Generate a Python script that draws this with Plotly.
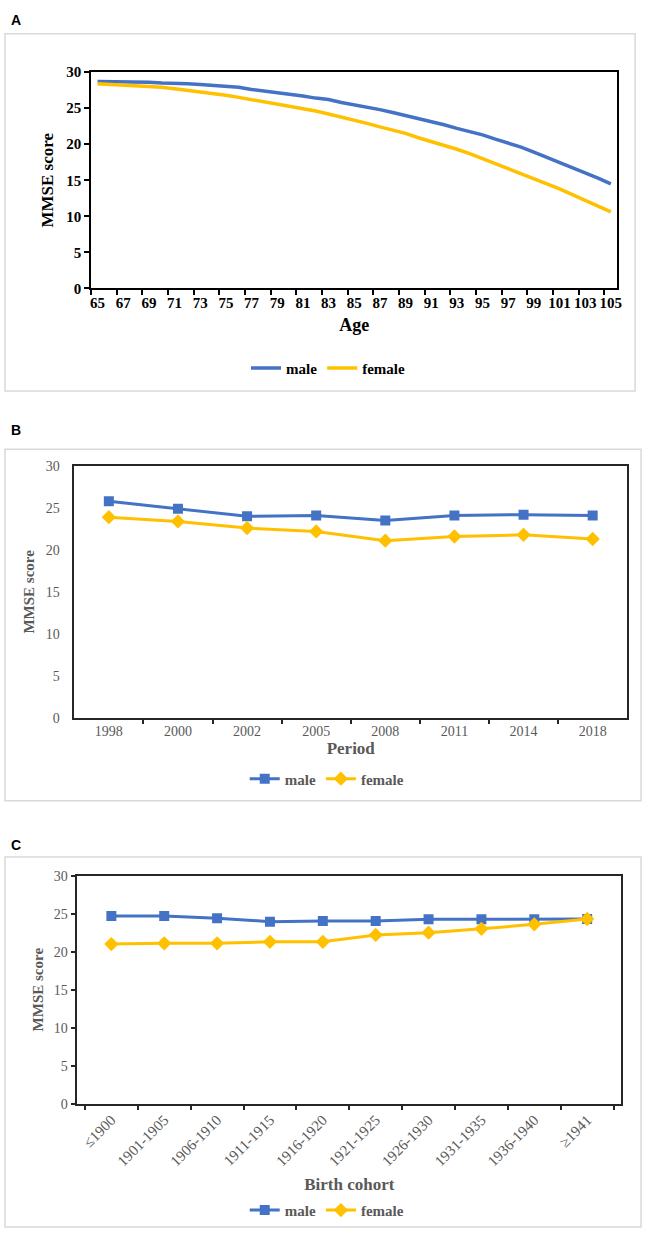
import plotly.graph_objects as go

# ---------------- data ----------------
ages = [65, 66, 67, 68, 69, 70, 71, 72, 73, 74, 75, 76, 77, 78, 79, 80, 81, 82, 83, 84, 85,
        86, 87, 88, 89, 90, 91, 92, 93, 94, 95, 96, 97, 98, 99, 100, 101, 102, 103, 104, 105]
male_age = [28.7, 28.7, 28.7, 28.7, 28.6, 28.5, 28.5, 28.4, 28.3, 28.2, 28.0, 27.9, 27.6, 27.4,
            27.2, 26.9, 26.7, 26.4, 26.2, 25.8, 25.5, 25.1, 24.8, 24.4, 24.0, 23.6, 23.1, 22.7,
            22.2, 21.8, 21.3, 20.7, 20.2, 19.6, 18.9, 18.2, 17.5, 16.8, 16.1, 15.3, 14.5]
female_age = [28.4, 28.3, 28.3, 28.2, 28.0, 27.9, 27.7, 27.5, 27.3, 27.0, 26.8, 26.5, 26.2, 25.9,
              25.6, 25.3, 24.9, 24.6, 24.2, 23.8, 23.4, 22.9, 22.4, 22.0, 21.5, 20.9, 20.4, 19.8,
              19.3, 18.7, 18.0, 17.4, 16.7, 16.0, 15.3, 14.6, 13.8, 13.0, 12.2, 11.4, 10.6]
age_ticks = [65, 67, 69, 71, 73, 75, 77, 79, 81, 83, 85, 87, 89, 91, 93, 95, 97, 99, 101, 103, 105]

periods = ["1998", "2000", "2002", "2005", "2008", "2011", "2014", "2018"]
male_period = [25.8, 24.9, 24.0, 24.1, 23.5, 24.1, 24.2, 24.1]
female_period = [23.9, 23.4, 22.6, 22.2, 21.1, 21.6, 21.8, 21.3]

cohorts = ["≤1900", "1901-1905", "1906-1910", "1911-1915", "1916-1920",
           "1921-1925", "1926-1930", "1931-1935", "1936-1940", "≥1941"]
male_cohort = [24.7, 24.7, 24.4, 23.95, 24.05, 24.05, 24.25, 24.25, 24.25, 24.3]
female_cohort = [21.0, 21.1, 21.1, 21.3, 21.3, 22.2, 22.5, 23.0, 23.6, 24.3]

y_ticks = [0, 5, 10, 15, 20, 25, 30]

BLUE = "#4472C4"
GOLD = "#FFC000"
GRAY = "#595959"
SERIF = "Liberation Serif, Times New Roman, serif"
W, H = 651, 1240


def px_x(x):
    return x / W


def px_y(y):
    return 1 - y / H


fig = go.Figure()

# ---------------- panel A ----------------
fig.add_trace(go.Scatter(x=ages, y=male_age, mode="lines", name="male",
                         line=dict(color=BLUE, width=3.5), xaxis="x", yaxis="y", legend="legend"))
fig.add_trace(go.Scatter(x=ages, y=female_age, mode="lines", name="female",
                         line=dict(color=GOLD, width=3.5), xaxis="x", yaxis="y", legend="legend"))

# ---------------- panel B ----------------
fig.add_trace(go.Scatter(x=periods, y=male_period, mode="lines+markers", name="male",
                         line=dict(color=BLUE, width=3),
                         marker=dict(symbol="square", size=10, color=BLUE),
                         xaxis="x2", yaxis="y2", legend="legend2"))
fig.add_trace(go.Scatter(x=periods, y=female_period, mode="lines+markers", name="female",
                         line=dict(color=GOLD, width=3),
                         marker=dict(symbol="diamond", size=11, color=GOLD),
                         xaxis="x2", yaxis="y2", legend="legend2"))

# ---------------- panel C ----------------
fig.add_trace(go.Scatter(x=cohorts, y=male_cohort, mode="lines+markers", name="male",
                         line=dict(color=BLUE, width=3),
                         marker=dict(symbol="square", size=10, color=BLUE),
                         xaxis="x3", yaxis="y3", legend="legend3"))
fig.add_trace(go.Scatter(x=cohorts, y=female_cohort, mode="lines+markers", name="female",
                         line=dict(color=GOLD, width=3),
                         marker=dict(symbol="diamond", size=11, color=GOLD),
                         xaxis="x3", yaxis="y3", legend="legend3"))

boldA = dict(family=SERIF, size=15, color="black", weight="bold")

fig.update_layout(
    width=W, height=H,
    margin=dict(l=0, r=0, t=0, b=0),
    paper_bgcolor="white", plot_bgcolor="white",
    font=dict(family=SERIF),
    # Panel A axes
    xaxis=dict(domain=[px_x(91), px_x(622)], anchor="y", range=[64.5, 105.5],
               tickmode="array", tickvals=age_ticks, ticktext=[str(a) for a in age_ticks],
               ticks="", tickfont=boldA, showgrid=False, zeroline=False,
               showline=True, linecolor="black", linewidth=2, mirror=True,
               minor=dict(tickmode="array", tickvals=[a - 0.5 for a in age_ticks],
                          ticks="outside", ticklen=5, tickcolor="black", tickwidth=1.5),
               title=dict(text="Age", font=dict(family=SERIF, size=18, color="black", weight="bold"),
                          standoff=8)),
    yaxis=dict(domain=[px_y(284), px_y(65)], anchor="x", range=[0, 30],
               tickmode="array", tickvals=y_ticks, ticks="outside", ticklen=5,
               tickcolor="black", tickwidth=1.5, tickfont=boldA,
               showgrid=False, zeroline=False,
               showline=True, linecolor="black", linewidth=2, mirror=True,
               title=dict(text="MMSE score", font=dict(family=SERIF, size=17, color="black", weight="bold"),
                          standoff=8)),
    # Panel B axes
    xaxis2=dict(domain=[px_x(74), px_x(632)], anchor="y2", type="category",
                tickson="boundaries", ticks="outside", ticklen=5, tickcolor="#262626", tickwidth=1.5,
                tickfont=dict(family=SERIF, size=14, color=GRAY),
                showgrid=False, zeroline=False,
                showline=True, linecolor="#262626", linewidth=1.5, mirror=True,
                title=dict(text="Period", font=dict(family=SERIF, size=17, color=GRAY, weight="bold"),
                           standoff=4)),
    yaxis2=dict(domain=[px_y(719), px_y(464)], anchor="x2", range=[0, 30],
                tickmode="array", tickvals=y_ticks, ticks="", ticklabelstandoff=10,
                tickfont=dict(family=SERIF, size=14, color=GRAY),
                showgrid=False, zeroline=False,
                showline=True, linecolor="#262626", linewidth=1.5, mirror=True,
                title=dict(text="MMSE score", font=dict(family=SERIF, size=15, color=GRAY, weight="bold"),
                           standoff=8)),
    # Panel C axes
    xaxis3=dict(domain=[px_x(77), px_x(626)], anchor="y3", type="category",
                tickson="boundaries", ticks="outside", ticklen=5, tickcolor="#262626", tickwidth=1.5,
                tickangle=-45,
                tickfont=dict(family=SERIF, size=15, color=GRAY),
                showgrid=False, zeroline=False,
                showline=True, linecolor="#262626", linewidth=1.5, mirror=True,
                title=dict(text="Birth cohort", font=dict(family=SERIF, size=17, color=GRAY, weight="bold"),
                           standoff=10)),
    yaxis3=dict(domain=[px_y(1110), px_y(879)], anchor="x3", range=[0, 30],
                tickmode="array", tickvals=y_ticks, ticks="outside", ticklen=5,
                tickcolor="#262626", tickwidth=1.5,
                tickfont=dict(family=SERIF, size=14, color=GRAY),
                showgrid=False, zeroline=False,
                showline=True, linecolor="#262626", linewidth=1.5, mirror=True,
                title=dict(text="MMSE score", font=dict(family=SERIF, size=15, color=GRAY, weight="bold"),
                           standoff=6)),
    legend=dict(orientation="h", x=0.507, xanchor="center", y=px_y(365), yanchor="middle",
                font=dict(family=SERIF, size=15, color="black", weight="bold"),
                bgcolor="rgba(0,0,0,0)", itemwidth=30, tracegroupgap=0),
    legend2=dict(orientation="h", x=0.505, xanchor="center", y=px_y(781), yanchor="middle",
                 font=dict(family=SERIF, size=15, color=GRAY, weight="bold"),
                 bgcolor="rgba(0,0,0,0)", itemwidth=30),
    legend3=dict(orientation="h", x=0.505, xanchor="center", y=px_y(1218), yanchor="middle",
                 font=dict(family=SERIF, size=15, color=GRAY, weight="bold"),
                 bgcolor="rgba(0,0,0,0)", itemwidth=30),
    showlegend=True,
)

# Panel frames
for (x0, y0, x1, y1) in [(4, 26, 640, 388), (4, 447, 646, 803), (4, 860, 646, 1235)]:
    fig.add_shape(type="rect", xref="paper", yref="paper",
                  x0=px_x(x0), x1=px_x(x1), y0=px_y(y1), y1=px_y(y0),
                  line=dict(color="#d9d9d9", width=1.5), fillcolor="rgba(0,0,0,0)", layer="below")

# Panel letters
for label, y in [("A", 12), ("B", 428), ("C", 848)]:
    fig.add_annotation(text=label, xref="paper", yref="paper", x=px_x(8), y=px_y(y),
                       xanchor="left", yanchor="middle", showarrow=False,
                       font=dict(family="Liberation Sans, Arial, sans-serif", size=14,
                                 color="black", weight="bold"))

fig.write_html("out.html", config={"displayModeBar": False},
               post_script="document.body.style.margin='0';document.body.style.overflow='hidden';")
